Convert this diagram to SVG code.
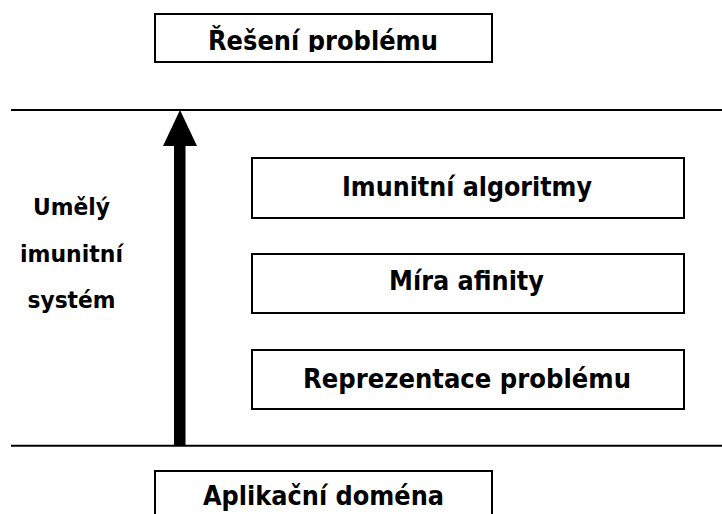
<svg xmlns="http://www.w3.org/2000/svg" width="722" height="514" viewBox="0 0 722 514">
  <style>
    .box { fill: #ffffff; stroke: #000000; stroke-width: 2; }
    .rule { stroke: #000000; stroke-width: 2; fill: none; }
    .t { font-family: "DejaVu Sans", Verdana, sans-serif; font-weight: bold; font-size: 27px; fill: #000000; text-anchor: middle; }
    .lbl { font-family: "DejaVu Sans", Verdana, sans-serif; font-weight: bold; font-size: 23px; fill: #000000; text-anchor: middle; }
  </style>
  <defs>
    <clipPath id="topClip"><rect x="155" y="14" width="337" height="38"/></clipPath>
  </defs>
  <rect width="722" height="514" fill="#ffffff"/>

  <!-- layer boundaries -->
  <g id="rules">
    <line class="rule" x1="11" y1="110" x2="722" y2="110"/>
    <line class="rule" x1="11" y1="445.7" x2="722" y2="445.7"/>
  </g>

  <g id="connectors">
    <rect x="174" y="144" width="11.5" height="302" fill="#000000"/>
    <polygon points="180,110 197,146 163,146" fill="#000000"/>
  </g>

  <g id="node-reseni">
    <rect class="box" x="155" y="14" width="337" height="48"/>
    <text class="t" x="323" y="50" textLength="230" lengthAdjust="spacingAndGlyphs" clip-path="url(#topClip)">Řešení problému</text>
  </g>

  <g id="label-ais">
    <text class="lbl" x="71.5" y="215" textLength="77" lengthAdjust="spacingAndGlyphs">Umělý</text>
    <text class="lbl" x="71.5" y="262" textLength="103" lengthAdjust="spacingAndGlyphs">imunitní</text>
    <text class="lbl" x="71.5" y="308" textLength="88" lengthAdjust="spacingAndGlyphs">systém</text>
  </g>

  <g id="node-algoritmy">
    <rect class="box" x="252" y="158" width="432" height="60"/>
    <text class="t" x="467" y="196" textLength="250" lengthAdjust="spacingAndGlyphs">Imunitní algoritmy</text>
  </g>

  <g id="node-afinita">
    <rect class="box" x="252" y="254" width="432" height="59"/>
    <text class="t" x="466.5" y="290" textLength="155" lengthAdjust="spacingAndGlyphs">Míra afinity</text>
  </g>

  <g id="node-reprezentace">
    <rect class="box" x="252" y="350" width="432" height="59"/>
    <text class="t" x="467" y="388" textLength="328" lengthAdjust="spacingAndGlyphs">Reprezentace problému</text>
  </g>

  <g id="node-domena">
    <rect class="box" x="155" y="471" width="337" height="60"/>
    <text class="t" x="323.5" y="505" textLength="241" lengthAdjust="spacingAndGlyphs">Aplikační doména</text>
  </g>
</svg>
